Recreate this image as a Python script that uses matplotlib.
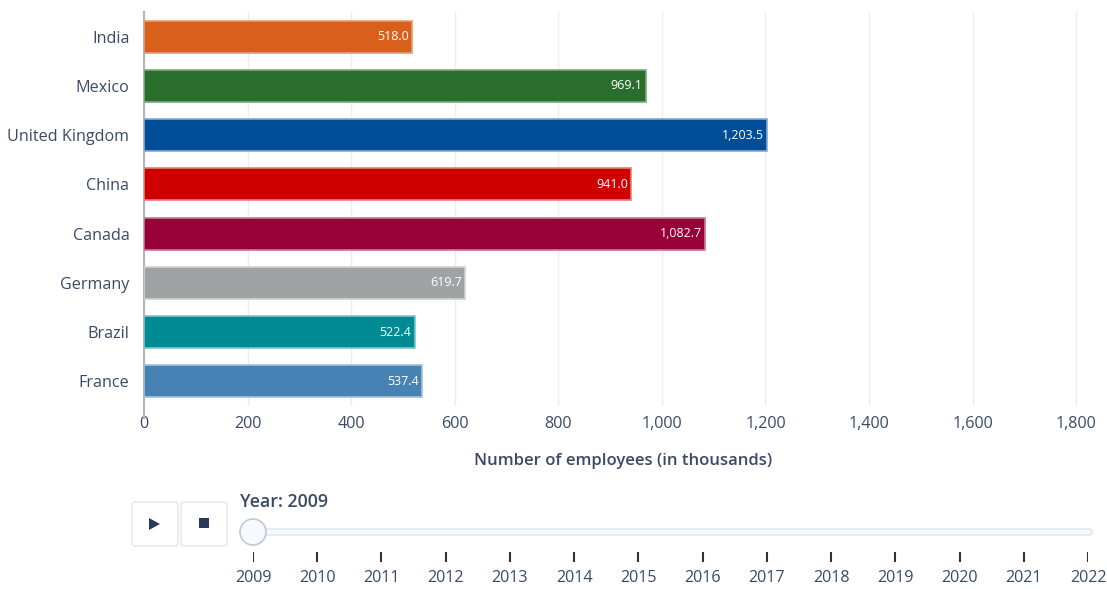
import matplotlib
matplotlib.use("Agg")
import matplotlib.pyplot as plt
from matplotlib.patches import FancyBboxPatch, Circle, Polygon, Rectangle

countries = ["India", "Mexico", "United Kingdom", "China", "Canada", "Germany", "Brazil", "France"]
employees = [518.0, 969.1, 1203.5, 941.0, 1082.7, 619.7, 522.4, 537.4]
colors = ["#d9601a", "#2a6e2e", "#004e98", "#d10000", "#990038", "#a0a3a4", "#008a93", "#4682b4"]
edge_colors = ["#e89a78", "#7fa880", "#8aa8d0", "#e38080", "#c47a99", "#cfd1d2", "#80c4c9", "#a3c1da"]
x_ticks = [0, 200, 400, 600, 800, 1000, 1200, 1400, 1600, 1800]
years = list(range(2009, 2023))
current_year = 2009
x_title = "Number of employees (in thousands)"

W, H = 1107, 589
fig = plt.figure(figsize=(W / 100, H / 100), dpi=100)
font = "Open Sans"
text_color = "#3a4a66"
fs = 11.6

def fx(px):
    return px / W

def fy(py):
    return 1 - py / H

ax = fig.add_axes([fx(144), fy(406), fx(1102 - 144), (406 - 12) / H])
n = len(countries)
ypos = list(range(n))
ax.barh(ypos, employees, height=0.65, color=colors, edgecolor=edge_colors, linewidth=1.2, zorder=3)
for y, v in zip(ypos, employees):
    ax.text(v - 6, y, f"{v:,.1f}", ha="right", va="center", color="white",
            fontsize=9, family=font, zorder=4)
ax.set_ylim(n - 0.5, -0.5)
ax.set_xlim(0, 1850)
ax.set_yticks(ypos)
ax.set_yticklabels(countries, family=font, fontsize=fs, color=text_color)
ax.set_xticks(x_ticks)
ax.set_xticklabels([f"{t:,}" for t in x_ticks], family=font, fontsize=fs, color=text_color)
ax.tick_params(axis="both", length=0, pad=7)
ax.tick_params(axis="y", pad=10.5)
ax.grid(axis="x", color="#ebedf0", linewidth=1, zorder=0)
for s in ["top", "right", "bottom"]:
    ax.spines[s].set_visible(False)
ax.spines["left"].set_color("#b5b5b5")
ax.spines["left"].set_linewidth(1.5)
ax.spines["left"].set_bounds(n - 0.25, -0.5)
ax.set_xlabel(x_title, family=font, fontsize=12, fontweight="semibold", color=text_color, labelpad=15)

# slider overlay
ov = fig.add_axes([0, 0, 1, 1], facecolor="none")
ov.set_xlim(0, W)
ov.set_ylim(H, 0)
ov.axis("off")

for x0 in (132, 181):
    ov.add_patch(FancyBboxPatch((x0, 502), 46, 44, boxstyle="round,pad=0,rounding_size=3",
                                facecolor="white", edgecolor="#e3e6ec", linewidth=1))
ov.add_patch(Polygon([(149, 518), (149, 530), (160, 524)], closed=True, facecolor="#2a3a5c", edgecolor="none"))
ov.add_patch(Rectangle((199, 518), 10, 10, facecolor="#2a3a5c", edgecolor="none"))

ov.add_patch(FancyBboxPatch((240, 529), 852, 6, boxstyle="round,pad=0,rounding_size=3",
                            facecolor="#f8f9fc", edgecolor="#dde3ee", linewidth=1))
ov.text(240, 502, f"Year: {current_year}", family=font, fontsize=12.8, fontweight="semibold",
        color=text_color, ha="left", va="center")

sl = fig.add_axes([fx(253), fy(589), fx(1088 - 253), 1], facecolor="none")
sl.set_xlim(years[0], years[-1])
sl.set_ylim(H, 0)
sl.axis("off")
for yr in years:
    sl.plot([yr, yr], [552, 562], color="#333333", linewidth=1.5, solid_capstyle="butt")
    sl.text(yr, 578, str(yr), family=font, fontsize=fs, color=text_color, ha="center", va="center")

ov.add_patch(Circle((253, 532), 13, facecolor="#f8f9fc", edgecolor="#bec8d9", linewidth=1.2, zorder=5))

fig.savefig("out.png", dpi=100)
